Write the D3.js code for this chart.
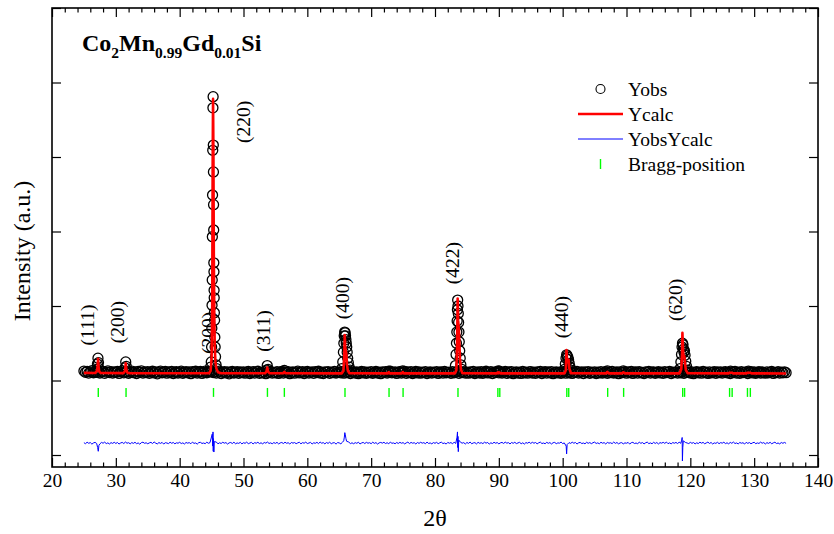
<!DOCTYPE html>
<html>
<head>
<meta charset="utf-8">
<script src="https://cdn.jsdelivr.net/npm/d3@7"></script>
<style>
  body { margin: 0; background: #fff; }
  svg { display: block; }
  text { font-family: "Liberation Serif", "Times New Roman", Times, serif; fill: #000; }
</style>
</head>
<body>
<svg id="chart" width="834" height="534"></svg>
<script>
// ---- Rietveld refinement data: Co2Mn0.99Gd0.01Si, Cu K-alpha ----

// Observed intensity on a regular 2θ grid (25° .. 135°, step 0.25°)
const obsStart = 25, obsStep = 0.25;
const obsCounts = [
  1126,1110,1121,1099,1116,1132,1104,1118,1108,1125,1101,1116,1123,1096,1113,1128,1106,1119,1099,1114,
  1108,1122,1095,1117,1129,1103,1112,1120,1097,1111,1126,1105,1115,1093,1121,1109,1130,1100,1114,1107,
  1119,1096,1112,1124,1102,1117,1090,1113,1127,1104,1110,1121,1098,1115,1106,1123,1094,1111,1119,1101,
  1113,1125,1097,1109,1120,1103,1116,1092,1118,1107,1124,1100,1112,1121,1095,1110,1126,1104,1115,1118,
  1122,1106,1117,1099,1113,1125,1094,1110,1119,1102,1116,1089,1111,1123,1101,1108,1120,1096,1114,1105,
  1117,1098,1112,1121,1093,1107,1118,1100,1115,1124,1097,1109,1103,1119,1091,1112,1106,1122,1099,1110,
  1104,1118,1095,1111,1123,1100,1114,1107,1120,1092,1109,1116,1098,1113,1125,1102,1108,1119,1094,1112,
  1121,1099,1110,1115,1096,1118,1106,1124,1101,1111,1093,1117,1108,1120,1097,1113,1105,1122,1100,1109,
  1115,1103,1119,1098,1112,1107,1121,1094,1110,1117,1100,1114,1091,1108,1123,1102,1116,1097,1111,1105,
  1118,1096,1109,1122,1101,1113,1092,1115,1106,1120,1099,1111,1124,1103,1108,1116,1095,1112,1119,1100,
  1110,1123,1097,1114,1105,1118,1093,1109,1121,1102,1115,1098,1112,1107,1119,1094,1110,1117,1101,1113,
  1106,1120,1095,1111,1116,1099,1122,1104,1108,1113,1097,1118,1103,1110,1121,1096,1114,1107,1119,1100,
  1112,1098,1117,1105,1121,1093,1109,1115,1101,1119,1096,1111,1124,1102,1107,1118,1094,1113,1106,1120,
  1103,1116,1099,1110,1122,1097,1114,1105,1119,1092,1108,1117,1100,1113,1095,1121,1104,1111,1098,1115,
  1119,1101,1112,1096,1116,1107,1123,1094,1110,1118,1099,1114,1103,1120,1091,1109,1116,1102,1113,1097,
  1111,1121,1098,1115,1104,1119,1095,1112,1108,1123,1100,1110,1117,1093,1114,1106,1120,1097,1111,1105,
  1116,1094,1113,1102,1120,1099,1109,1118,1096,1112,1105,1122,1101,1108,1115,1092,1117,1103,1110,1119,
  1098,1114,1107,1121,1095,1111,1116,1100,1119,1104,1109,1093,1117,1106,1123,1099,1112,1115,1097,1108,
  1120,1102,1113,1096,1118,1105,1110,1122,1094,1111,1107,1116,1099,1114,1103,1121,1096,1112,1108,1117,
  1101,1115,1092,1110,1119,1104,1113,1098,1121,1106,1111,1095,1117,1102,1109,1120,1097,1114,1105,1116,
  1099,1112,1118,1103,1110,1094,1116,1107,1121,1100,1113,1097,1119,1105,1108,1115,1093,1111,1118,1102,
  1114,1096,1109,1120,1101,1115,1106,1098,1117,1103,1112,1121,1095,1110,1107,1118,1100,1113,1104,1116,
  1105
];

// Finer observed points across the reflections [2θ, counts]
const obsPeaks = [
  // (111)
  [27.05,1150],[27.12,1220],[27.2,1300],[27.28,1240],[27.36,1160],
  // (200)
  [31.45,1170],[31.55,1250],[31.63,1190],
  // (220)
  [44.85,1180],[44.95,1250],[45.0,1450],[45.04,1700],[45.07,2010],[45.1,2350],[45.12,2930],[45.15,3490],
  [45.18,4090],[45.21,4660],[45.24,4810],[45.27,4160],[45.29,3800],[45.31,3360],[45.33,3020],[45.35,2580],
  [45.37,2460],[45.39,2210],[45.41,2110],[45.44,1910],[45.47,1810],[45.51,1580],[45.56,1450],[45.62,1320],
  [45.7,1210],[45.8,1160],
  // (311), (222)
  [53.6,1140],[53.72,1200],[53.85,1150],[56.4,1135],
  // (400)
  [65.4,1160],[65.55,1250],[65.65,1380],[65.72,1500],[65.78,1600],[65.85,1650],[65.92,1640],[65.98,1600],
  [66.04,1550],[66.1,1500],[66.17,1450],[66.24,1380],[66.32,1300],[66.42,1240],[66.55,1180],[66.7,1140],
  // (331), (420)
  [72.75,1125],[74.95,1130],
  // (422)
  [83.2,1200],[83.3,1350],[83.36,1500],[83.42,1650],[83.47,1800],[83.51,1950],[83.55,2080],[83.6,2000],
  [83.65,1900],[83.7,1780],[83.75,1650],[83.8,1520],[83.87,1400],[83.95,1300],[84.05,1210],[84.2,1150],
  // (511)
  [89.9,1130],[90.1,1125],
  // (440)
  [100.3,1150],[100.42,1220],[100.52,1300],[100.62,1345],[100.72,1330],[100.82,1310],[100.92,1280],
  [101.02,1230],[101.15,1180],[101.3,1140],
  // (531), (600)
  [107.0,1130],[109.5,1128],
  // (620)
  [118.4,1160],[118.52,1250],[118.62,1350],[118.7,1450],[118.77,1500],[118.85,1480],[118.93,1420],
  [119.0,1380],[119.08,1400],[119.17,1340],[119.28,1260],[119.4,1190],[119.55,1140],
  // (533), (622)
  [126.3,1125],[129.1,1125]
];

// Calculated profile [2θ, counts]
const calcProfile = [
  [25,1102],[26.8,1100],[27.05,1130],[27.15,1200],[27.22,1290],[27.3,1180],[27.4,1120],[27.6,1102],
  [31.2,1099],[31.45,1130],[31.55,1230],[31.65,1150],[31.8,1105],[32.2,1098],
  [44.6,1098],[44.85,1130],[45.0,1300],[45.1,2000],[45.17,3900],[45.23,4780],[45.29,4000],[45.35,2700],
  [45.42,1900],[45.5,1450],[45.6,1250],[45.75,1160],[46.0,1110],[46.5,1098],
  [53.4,1097],[53.6,1120],[53.72,1175],[53.85,1120],[54.1,1097],
  [56.2,1097],[56.4,1115],[56.6,1097],
  [65.4,1096],[65.65,1130],[65.78,1300],[65.86,1610],[65.93,1450],[66.02,1400],[66.1,1360],[66.2,1220],
  [66.35,1130],[66.6,1098],
  [72.6,1096],[72.75,1112],[72.9,1096],
  [74.8,1096],[74.95,1114],[75.1,1096],
  [83.1,1096],[83.35,1140],[83.47,1500],[83.55,2100],[83.63,1800],[83.72,1700],[83.8,1550],[83.9,1300],
  [84.05,1150],[84.3,1098],
  [89.7,1096],[89.85,1110],[89.95,1100],[90.1,1108],[90.3,1096],
  [100.3,1096],[100.5,1140],[100.6,1410],[100.7,1250],[100.82,1260],[100.92,1280],[101.05,1160],[101.3,1098],
  [106.8,1096],[107.0,1115],[107.2,1096],
  [109.3,1096],[109.5,1110],[109.7,1096],
  [118.3,1096],[118.58,1150],[118.7,1350],[118.76,1640],[118.85,1420],[118.95,1310],[119.05,1330],
  [119.15,1250],[119.3,1140],[119.6,1098],
  [126.0,1096],[126.15,1105],[126.5,1105],[126.7,1096],
  [128.8,1096],[128.95,1105],[129.35,1105],[129.6,1096],
  [135,1095]
];

// Residual Yobs - Ycalc on the same grid as obsCounts
const diffResidual = [
  5,-8,12,-3,7,-14,2,10,-6,4,-11,9,-2,13,-7,3,-12,6,-4,11,
  -5,8,-13,1,9,-6,14,-2,5,-10,7,-4,11,-8,2,-15,6,12,-3,4,
  -9,3,10,-6,15,-1,-11,7,-4,9,-13,5,1,-7,12,-3,8,-10,4,-2,
  11,-6,3,-12,8,-1,6,-9,13,-4,2,-14,7,10,-5,1,-8,12,-3,6,
  -7,9,-2,14,-10,4,-5,11,-1,7,-13,3,8,-6,12,-9,2,-4,10,-11,
  5,-3,13,-8,1,9,-12,6,-2,11,-7,4,-10,8,-1,14,-5,3,-9,7,
  -4,10,-11,2,8,-6,12,-3,5,-13,9,-1,7,-8,3,11,-10,6,-2,13,
  -6,1,9,-12,4,-3,10,-7,14,-2,6,-11,8,-4,12,-9,3,5,-14,7,
  2,-10,11,-5,8,-1,13,-7,4,-9,6,-3,12,-12,1,9,-6,10,-2,5,
  -8,12,-4,7,-13,3,9,-1,11,-6,5,-10,14,-3,2,-9,8,-5,10,-2,
  6,-11,3,13,-7,9,-2,5,-12,8,-4,11,-1,6,-9,14,-5,2,-10,7,
  -3,10,-8,4,12,-6,1,-13,9,-2,7,-10,13,-5,3,-8,11,-1,6,-12,
  8,-4,14,-9,2,6,-11,10,-3,5,-7,12,-1,9,-14,4,-6,11,-2,7,
  -10,3,9,-5,13,-1,6,-12,8,-3,11,-7,2,10,-9,4,-13,7,-2,12,
  -5,11,-2,8,-10,4,13,-6,1,-9,10,-3,7,-12,5,9,-8,3,-1,14,
  -7,2,10,-11,6,-4,12,-2,8,-13,4,9,-6,1,-10,11,-3,7,-8,5,
  13,-5,3,-9,11,-2,6,-12,9,-1,4,-7,14,-4,8,-10,2,6,-11,3,
  -2,9,-13,5,10,-6,1,-8,12,-3,7,-11,4,13,-7,2,-9,11,-5,8,
  -12,6,-1,10,-4,14,-8,3,-10,7,-2,9,-6,12,-3,5,-13,8,1,-7,
  10,-3,7,-11,4,-6,12,-1,9,-9,2,13,-5,8,-12,3,-4,11,-8,6,
  -1,12,-7,4,-10,9,-3,14,-6,2,-11,8,-2,5,-13,10,-4,7,-9,3,
  11,-8,2,-5,13,-2,7,-12,6,-4,10,-9,3,12,-6,1,-11,8,-3,9,
  -4
];

// Residual excursions across the reflections [2θ, counts]
const diffPeaks = [
  [27.15,-60],[27.25,-110],[27.35,-30],
  [45.1,120],[45.18,-40],[45.22,150],[45.26,-110],[45.3,60],[45.36,-120],[45.42,20],
  [65.7,30],[65.8,80],[65.87,140],[65.95,110],[66.05,60],[66.15,25],
  [83.45,80],[83.52,150],[83.56,-60],[83.6,90],[83.65,-115],[83.72,40],
  [100.55,-40],[100.62,-145],[100.7,-20],
  [118.65,40],[118.72,75],[118.76,-240],[118.82,-60],[118.9,30]
];
const diffOffset = 160;

// Allowed reflection positions (2θ), K-alpha1/K-alpha2 pairs at high angle
const braggPositions = [
  27.25, 31.6, 45.3, 53.75, 56.4, 65.9, 72.8, 75.0, 83.6,
  89.85, 90.15, 100.65, 100.95, 107.05, 109.55, 118.8, 119.1,
  126.15, 126.55, 128.95, 129.4
];

// Miller indices written beside the reflections, anchored in data coordinates [2θ, counts]
const hklLabels = ["(111)", "(200)", "(200)", "(220)", "(311)", "(400)", "(422)", "(440)", "(620)"];
const hklAnchors = [
  [25.63,1745],[30.33,1785],[44.56,1638],[50.04,4470],[53.17,1664],
  [65.53,2107],[82.74,2577],[99.79,1852],[117.63,2081]
];

const xMajorTicks = [20, 30, 40, 50, 60, 70, 80, 90, 100, 110, 120, 130, 140];
const yMajorTicks = [0, 1000, 2000, 3000, 4000, 5000, 6000];

// ---- Drawing ----
const svg = d3.select("#chart");
const W = 834, H = 534;
const plotLeft = 52, plotRight = 818, plotTop = 8, plotBottom = 467;

svg.append("rect").attr("width", W).attr("height", H).attr("fill", "#fff");

const x = d3.scaleLinear().domain([20, 140]).range([plotLeft, plotRight]);
const y = d3.scaleLinear().domain([-161, 6000]).range([plotBottom, plotTop]);

// merged observed points
const obsPoints = obsCounts.map((c, i) => [obsStart + i * obsStep, c]).concat(obsPeaks);

// merged difference curve
const diffPoints = diffResidual.map((r, i) => [obsStart + i * obsStep, r])
  .filter(d => !diffPeaks.some(p => Math.abs(p[0] - d[0]) < 0.12))
  .concat(diffPeaks)
  .sort((a, b) => a[0] - b[0])
  .map(d => [d[0], d[1] + diffOffset]);

// hkl labels
const labelFont = 19.5;
svg.append("g").selectAll("text").data(hklLabels).join("text")
  .attr("transform", (d, i) => `translate(${x(hklAnchors[i][0])},${y(hklAnchors[i][1])}) rotate(-90)`)
  .attr("text-anchor", "middle")
  .attr("dy", "0.33em")
  .style("font-size", labelFont + "px")
  .text(d => d);

// observed circles
svg.append("g").selectAll("circle").data(obsPoints).join("circle")
  .attr("cx", d => x(d[0]))
  .attr("cy", d => y(d[1]))
  .attr("r", 5)
  .attr("fill", "none")
  .attr("stroke", "#000")
  .attr("stroke-width", 1.3);

const line = d3.line().x(d => x(d[0])).y(d => y(d[1]));

// calculated profile
svg.append("path").datum(calcProfile)
  .attr("d", line)
  .attr("fill", "none")
  .attr("stroke", "#ff0000")
  .attr("stroke-width", 2.6)
  .attr("stroke-linejoin", "round");

// difference curve
svg.append("path").datum(diffPoints)
  .attr("d", line)
  .attr("fill", "none")
  .attr("stroke", "#0000ff")
  .attr("stroke-width", 1);

// Bragg reflection markers
const braggTop = 900, braggBottom = 780;
svg.append("g").selectAll("line").data(braggPositions).join("line")
  .attr("x1", d => x(d)).attr("x2", d => x(d))
  .attr("y1", y(braggTop)).attr("y2", y(braggBottom))
  .attr("stroke", "#00ff00")
  .attr("stroke-width", 1.4);

// ---- Axes (ticks pointing inward on all four sides) ----
const xMinorTicks = d3.range(20, 141, 2).filter(v => v % 10 !== 0);
const tickStroke = 1.2;

function styleAxis(g) {
  g.select(".domain").remove();
  g.selectAll(".tick line").attr("stroke", "#000").attr("stroke-width", tickStroke);
}

svg.append("g").attr("transform", `translate(0,${plotBottom})`)
  .call(d3.axisBottom(x).tickValues(xMinorTicks).tickSize(-4.5).tickFormat(""))
  .call(styleAxis);
svg.append("g").attr("transform", `translate(0,${plotBottom})`)
  .call(d3.axisBottom(x).tickValues(xMajorTicks).tickSize(-9).tickPadding(6).tickFormat(d3.format("d")))
  .call(styleAxis)
  .call(g => g.selectAll("text")
    .style("font-size", "19.5px")
    .style("font-family", '"Liberation Serif", "Times New Roman", serif')
    .attr("fill", "#000"));

svg.append("g").attr("transform", `translate(0,${plotTop})`)
  .call(d3.axisTop(x).tickValues(xMinorTicks).tickSize(-4.5).tickFormat(""))
  .call(styleAxis);
svg.append("g").attr("transform", `translate(0,${plotTop})`)
  .call(d3.axisTop(x).tickValues(xMajorTicks).tickSize(-9).tickFormat(""))
  .call(styleAxis);

svg.append("g").attr("transform", `translate(${plotLeft},0)`)
  .call(d3.axisLeft(y).tickValues(yMajorTicks).tickSize(-9).tickFormat(""))
  .call(styleAxis);
svg.append("g").attr("transform", `translate(${plotRight},0)`)
  .call(d3.axisRight(y).tickValues(yMajorTicks).tickSize(-9).tickFormat(""))
  .call(styleAxis);

// frame
svg.append("rect")
  .attr("x", plotLeft).attr("y", plotTop)
  .attr("width", plotRight - plotLeft).attr("height", plotBottom - plotTop)
  .attr("fill", "none").attr("stroke", "#000").attr("stroke-width", 1.6);

// axis titles
svg.append("text")
  .attr("x", 435).attr("y", 526)
  .attr("text-anchor", "middle")
  .style("font-size", "24px")
  .text("2θ");

svg.append("text")
  .attr("transform", "translate(30,251) rotate(-90)")
  .attr("text-anchor", "middle")
  .style("font-size", "24px")
  .text("Intensity (a.u.)");

// composition title
const title = svg.append("text")
  .attr("x", 82).attr("y", 51)
  .style("font-size", "24px")
  .style("font-weight", "bold");
const titleParts = [["Co", 0], ["2", 1], ["Mn", 0], ["0.99", 1], ["Gd", 0], ["0.01", 1], ["Si", 0]];
let shifted = false;
titleParts.forEach(([t, sub]) => {
  const ts = title.append("tspan").text(t);
  if (sub && !shifted) { ts.attr("dy", 7).style("font-size", "15.5px"); shifted = true; }
  else if (sub) { ts.style("font-size", "15.5px"); }
  else if (shifted) { ts.attr("dy", -7); shifted = false; }
});

// legend
const lg = svg.append("g").style("font-size", "19.5px");
const lgX = 578, lgLineW = 45, lgTextX = 628, lgRow0 = 89, lgRowH = 25;
lg.append("circle").attr("cx", lgX + lgLineW / 2).attr("cy", lgRow0).attr("r", 4.5)
  .attr("fill", "none").attr("stroke", "#000").attr("stroke-width", 1.1);
lg.append("line").attr("x1", lgX).attr("x2", lgX + lgLineW)
  .attr("y1", lgRow0 + lgRowH).attr("y2", lgRow0 + lgRowH)
  .attr("stroke", "#ff0000").attr("stroke-width", 2.6);
lg.append("line").attr("x1", lgX).attr("x2", lgX + lgLineW)
  .attr("y1", lgRow0 + 2 * lgRowH).attr("y2", lgRow0 + 2 * lgRowH)
  .attr("stroke", "#0000ff").attr("stroke-width", 1);
lg.append("line").attr("x1", lgX + lgLineW / 2).attr("x2", lgX + lgLineW / 2)
  .attr("y1", lgRow0 + 3 * lgRowH - 5).attr("y2", lgRow0 + 3 * lgRowH + 5)
  .attr("stroke", "#00ff00").attr("stroke-width", 1.4);
["Yobs", "Ycalc", "YobsYcalc", "Bragg-position"].forEach((t, i) => {
  lg.append("text").attr("x", lgTextX).attr("y", lgRow0 + i * lgRowH).attr("dy", "0.35em").text(t);
});
</script>
</body>
</html>
